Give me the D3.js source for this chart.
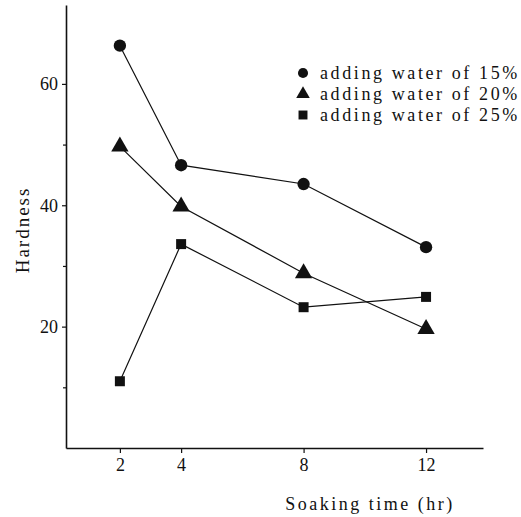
<!DOCTYPE html>
<html>
<head>
<meta charset="utf-8">
<script src="https://cdn.jsdelivr.net/npm/d3@7"></script>
<style>
  body { margin: 0; background: #fff; }
  text { font-family: "Liberation Serif", "DejaVu Serif", serif; fill: #111; }
</style>
</head>
<body>
<svg id="chart"></svg>
<script>
var soakTimes = [2, 4, 8, 12];
var water15 = [66.3, 46.6, 43.5, 33.1];
var water20 = [49.7, 39.8, 28.8, 19.6];
var water25 = [11.0, 33.6, 23.2, 24.9];
var seriesNames = ["adding water of 15%", "adding water of 20%", "adding water of 25%"];
var xTicks = [2, 4, 8, 12];
var yTicks = [20, 40, 60];
var yMinor = [10, 30, 50];

var width = 521;
var height = 517;
var margin = {left: 66, right: 38, top: 5, bottom: 69};

var svg = d3.select("#chart")
            .attr("width", width)
            .attr("height", height)

var x = d3.scaleLinear()
          .domain([0.24, 13.86])
          .range([margin.left, width - margin.right]);
var y = d3.scaleLinear()
          .domain([0, 73])
          .range([height - margin.bottom, margin.top]);

svg.append("g")
   .attr("transform", "translate(0," + (height - margin.bottom) + ")")
   .call(d3.axisBottom(x).tickValues(xTicks).tickSize(5).tickPadding(5).tickSizeOuter(0));
svg.append("g")
   .attr("transform", "translate(" + margin.left + ",0)")
   .call(d3.axisLeft(y).tickValues(yTicks).tickSize(4).tickPadding(4).tickSizeOuter(0));

svg.append("g")
   .attr("transform", "translate(" + margin.left + ",0)")
   .call(d3.axisLeft(y).tickValues(yMinor).tickSize(3).tickFormat(""))
   .select(".domain").remove();

svg.selectAll(".domain").attr("stroke", "#111").attr("stroke-width", 1.6);
svg.selectAll(".tick line").attr("stroke", "#111").attr("stroke-width", 1.2);
svg.selectAll(".tick text")
   .attr("font-size", 18)
   .attr("fill", "#111")
   .style("font-family", "\"Liberation Serif\", serif");

// axis titles
svg.append("text")
   .text("Soaking time (hr)")
   .attr("x", 370)
   .attr("y", 510)
   .attr("text-anchor", "middle")
   .attr("font-size", 18)
   .style("letter-spacing", "2.5px");

svg.append("text")
   .text("Hardness")
   .attr("transform", "translate(29,230) rotate(-90)")
   .attr("text-anchor", "middle")
   .attr("font-size", 19)
   .style("letter-spacing", "2px");

var allSeries = [water15, water20, water25];
var symbols = [d3.symbolCircle, d3.symbolTriangle, d3.symbolSquare];
var symSizes = [120, 130, 100];

allSeries.forEach(function(vals, s){
  var pts = soakTimes.map(function(t, i){ return [t, vals[i]]; });
  var line = d3.line()
     .x(function(d){ return x(d[0]); })
     .y(function(d){ return y(d[1]); });

  svg.append("path")
     .datum(pts)
     .attr("d", line)
     .attr("fill", "none")
     .attr("stroke", "#111")
     .attr("stroke-width", 1.2);

  svg.selectAll(".m" + s)
     .data(pts)
     .enter()
     .append("path")
     .attr("class", "m" + s)
     .attr("d", d3.symbol().type(symbols[s]).size(symSizes[s]))
     .attr("transform", function(d){
       return "translate(" + x(d[0]) + "," + y(d[1]) + ")";
     })
     .attr("fill", "#111");
});

// legend
var legend = svg.append("g").attr("transform", "translate(303,73)");
seriesNames.forEach(function(name, i){
  legend.append("path")
     .attr("d", d3.symbol().type(symbols[i]).size(80))
     .attr("transform", "translate(0," + (i * 21) + ")")
     .attr("fill", "#111");
  legend.append("text")
     .text(name)
     .attr("x", 17)
     .attr("y", i * 21 + 6)
     .attr("font-size", 18)
     .style("letter-spacing", "2.6px");
});
</script>
</body>
</html>
